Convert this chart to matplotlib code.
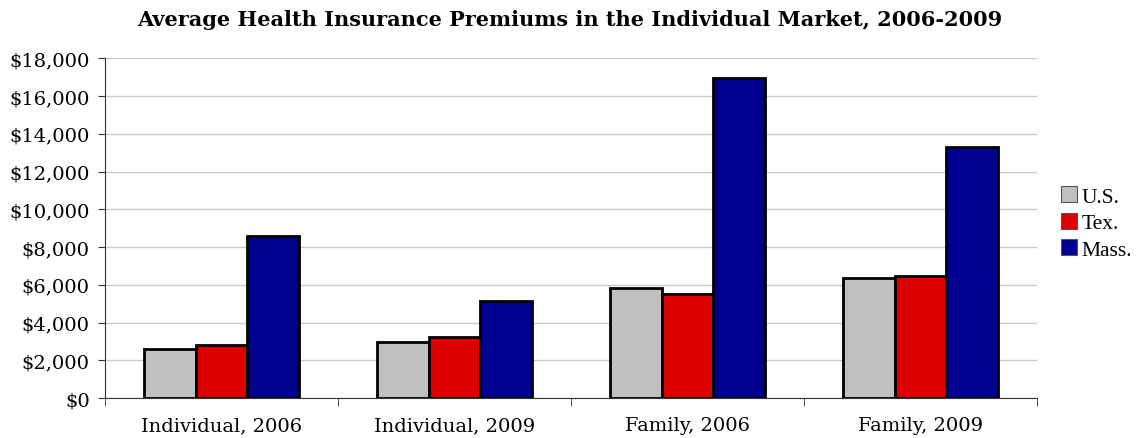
import matplotlib
matplotlib.use("Agg")
import matplotlib.pyplot as plt
import numpy as np
from matplotlib.ticker import FuncFormatter, MultipleLocator

categories = ["Individual, 2006", "Individual, 2009", "Family, 2006", "Family, 2009"]
us = [2610, 2990, 5820, 6350]
tex = [2820, 3230, 5520, 6490]
mass = [8580, 5140, 16940, 13320]
series_names = ["U.S.", "Tex.", "Mass."]
colors = ["#C0C0C0", "#DD0000", "#000090"]

fig = plt.figure(figsize=(11.4, 4.39), dpi=100)
ax = fig.add_axes([0.0921, 0.0911, 0.8175, 0.7739])

x = np.arange(len(categories))
w = 1 / 4.5
for i, (vals, name, c) in enumerate(zip([us, tex, mass], series_names, colors)):
    ax.bar(x + (i - 1) * w, vals, width=w, color=c, edgecolor="black",
           linewidth=2, label=name, zorder=3)

ax.set_xlim(-0.5, len(categories) - 0.5)
ax.set_ylim(0, 18000)
ax.yaxis.set_major_locator(MultipleLocator(2000))
ax.yaxis.set_major_formatter(FuncFormatter(lambda v, p: "${:,.0f}".format(v)))
ax.grid(axis="y", color="#C8C8C8", linewidth=1, zorder=0)
ax.set_axisbelow(True)
for s in ["top", "right"]:
    ax.spines[s].set_visible(False)
ax.spines["left"].set_color("#333333")
ax.spines["bottom"].set_color("#333333")

ax.set_xticks(x)
ax.set_xticklabels(categories, fontsize=14, family="DejaVu Serif")
ax.tick_params(axis="x", length=0, pad=13)
ax.set_xticks(np.arange(-0.5, len(categories)), minor=True)
ax.tick_params(axis="x", which="minor", length=6, direction="out", color="#333333")
ax.tick_params(axis="y", length=5, direction="out", color="#333333", labelsize=14, pad=6)
for lab in ax.get_yticklabels():
    lab.set_family("DejaVu Serif")

fig.text(0.5, 0.955, "Average Health Insurance Premiums in the Individual Market, 2006-2009",
         ha="center", va="center", fontsize=15, fontweight="bold", family="DejaVu Serif")

leg = ax.legend(loc="center left", bbox_to_anchor=(1.005, 0.515), frameon=False,
                prop={"family": "Liberation Serif", "size": 15.5},
                handlelength=0.75, handleheight=0.75, handletextpad=0.2, labelspacing=0.28)
for h in leg.legend_handles:
    h.set_linewidth(0.8)
    h.set_edgecolor("#555555")

fig.savefig("out.png", dpi=100)
